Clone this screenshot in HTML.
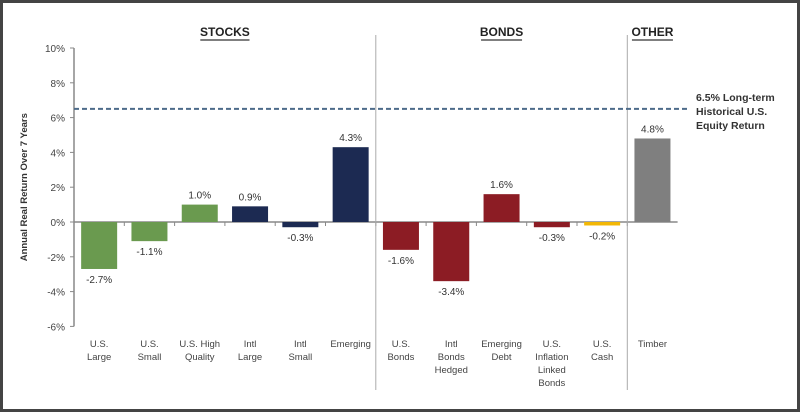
<!DOCTYPE html>
<html><head><meta charset="utf-8"><style>
body{margin:0;background:#fff;width:800px;height:413px;overflow:hidden}
svg{display:block;font-family:"Liberation Sans",sans-serif}
</style></head><body>
<svg id="c" width="800" height="413">
<rect x="1.5" y="1.5" width="797" height="409" fill="#fff" stroke="#444" stroke-width="3"/>
</svg>
<script>
const categories=[["U.S.","Large"],["U.S.","Small"],["U.S. High","Quality"],["Intl","Large"],["Intl","Small"],["Emerging"],["U.S.","Bonds"],["Intl","Bonds","Hedged"],["Emerging","Debt"],["U.S.","Inflation","Linked","Bonds"],["U.S.","Cash"],["Timber"]];
const values=[-2.7,-1.1,1.0,0.9,-0.3,4.3,-1.6,-3.4,1.6,-0.3,-0.2,4.8];
const labels=["-2.7%","-1.1%","1.0%","0.9%","-0.3%","4.3%","-1.6%","-3.4%","1.6%","-0.3%","-0.2%","4.8%"];
const colors=["#6a9a4f","#6a9a4f","#6a9a4f","#1c2a52","#1c2a52","#1c2a52","#8c1c24","#8c1c24","#8c1c24","#8c1c24","#f2b705","#7f7f7f"];
const yTicks=[-6,-4,-2,0,2,4,6,8,10];
const benchmark=6.5;
const groups=[["STOCKS",0,6],["BONDS",6,11],["OTHER",11,12]];
const svg=document.getElementById('c'),NS="http://www.w3.org/2000/svg";
const x0=74,step=50.3,bw=36;
const y=v=>222-v*17.4;
const xc=i=>x0+(i+0.5)*step;
function mk(t,a,txt){const e=document.createElementNS(NS,t);for(const k in a)e.setAttribute(k,a[k]);if(txt!=null)e.textContent=txt;svg.appendChild(e);return e;}
// y axis
let e=mk('line',{x1:x0,x2:x0,y1:y(10),y2:y(-6),stroke:'#888','stroke-width':1.5});


yTicks.forEach(t=>{
 let l=mk('line',{x1:x0-4,x2:x0,y1:y(t),y2:y(t),stroke:'#888'});
 
 
 let s=mk('text',{x:x0-9,y:y(t)+4,'text-anchor':'end','font-size':10,fill:'#444'},t+'%');
 
 
});
e=mk('text',{x:27,y:y(2),'text-anchor':'middle','font-size':9.5,'font-weight':'bold',fill:'#333',transform:'rotate(-90 27 '+y(2)+')'},'Annual Real Return Over 7 Years');


// zero axis
e=mk('line',{x1:x0,x2:x0+12*step,y1:y(0),y2:y(0),stroke:'#888','stroke-width':1.5});


for(let i=1;i<12;i++){let t=mk('line',{x1:x0+i*step,x2:x0+i*step,y1:y(0),y2:y(0)+4,stroke:'#888'});
 
 }
// dividers
[6,11].forEach(i=>{let d=mk('line',{x1:x0+i*step,x2:x0+i*step,y1:35,y2:390,stroke:'#aaa'});
 
 });
// benchmark
e=mk('line',{x1:x0,x2:690,y1:y(benchmark),y2:y(benchmark),stroke:'#4d6b8a','stroke-width':2,'stroke-dasharray':'5,3'});


["6.5% Long-term","Historical U.S.","Equity Return"].forEach((t,k)=>{let s=mk('text',{x:696,y:101+k*14,'font-size':10.5,'font-weight':'bold',fill:'#333'},t);
 
 });
// groups
groups.forEach(g=>{const cx=x0+(g[1]+g[2])/2*step;
 let s=mk('text',{x:cx,y:36,'text-anchor':'middle','font-size':12,'font-weight':'bold',fill:'#222'},g[0]);
 
 
 const w=g[0].length*8.2;
 let u=mk('line',{x1:cx-w/2,x2:cx+w/2,y1:40,y2:40,stroke:'#555','stroke-width':1.5});
 
 });
// bars
values.forEach((v,i)=>{
 const top=Math.min(y(v),y(0)),h=Math.abs(y(v)-y(0));
 let r=mk('rect',{x:xc(i)-bw/2,y:top,width:bw,height:Math.max(h,1),fill:colors[i]});
 
 
 const ly=v>=0?y(v)-6:y(v)+14;
 let s=mk('text',{x:xc(i),y:ly,'text-anchor':'middle','font-size':10,fill:'#333'},labels[i]);
 
 
 categories[i].forEach((c,k)=>{let t=mk('text',{x:xc(i),y:347+k*13,'text-anchor':'middle','font-size':9.5,fill:'#444'},c);
  
  });
});
</script>
</body></html>
